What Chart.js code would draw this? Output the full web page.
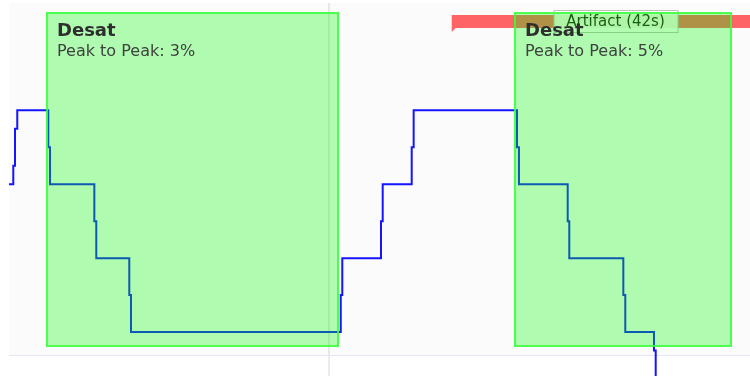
<!DOCTYPE html>
<html>
<head>
<meta charset="utf-8">
<script src="https://cdn.jsdelivr.net/npm/chart.js@4"></script>
<style>
	html, body { margin: 0; padding: 0; background: #ffffff; }
	#spo2Chart { display: block; }
</style>
</head>
<body>
<canvas id="spo2Chart" width="750" height="376"></canvas>
<script>
	//SpO2 trace: the value changes at each time (seconds) to the listed level
	var changeTimes = [19, 19.55, 19.77, 20.06, 24.04, 24.26, 29.94, 30.19, 34.42, 34.64,
		61.53, 61.73, 66.69, 66.91, 70.63, 70.88, 84.13, 84.38, 90.63, 90.83,
		97.76, 98.01, 101.69, 101.91, 103.0, 114];
	var spo2Values = [96, 96.25, 96.75, 97, 96.5, 96, 95.5, 95, 94.5, 94,
		94.5, 95, 95.5, 96, 96.5, 97, 96.5, 96, 95.5, 95,
		94.5, 94, 93.75, 93, 92, 92];

	//desaturation events
	var desatStart = [23.74, 83.68];
	var desatEnd = [61.31, 111.65];
	var desatPeakToPeak = [3, 5];

	//artifact events
	var artifactStart = [75.76];
	var artifactDuration = [42];

	//one minute mark
	var gridTimes = [60];

	var timeMin = 19, timeMax = 114;
	var spo2Min = 93.69, spo2Max = 98.45;

	var tracePoints = changeTimes.map(function (t, i) {
		return {x: t, y: spo2Values[i]};
	});

	//light background behind the plot area
	var plotBackground = {
		id: "plotBackground",
		beforeDraw: function (chart) {
			var ctx = chart.ctx, area = chart.chartArea;
			ctx.save();
			ctx.fillStyle = "#fbfbfc";
			ctx.fillRect(area.left, area.top, area.right - area.left, area.bottom - area.top);
			ctx.restore();
		}
	};

	//artifact bars, desat boxes and their captions
	var eventOverlay = {
		id: "eventOverlay",
		afterDatasetsDraw: function (chart) {
			var ctx = chart.ctx, area = chart.chartArea, xs = chart.scales.x;
			ctx.save();

			artifactStart.forEach(function (start, i) {
				var x0 = xs.getPixelForValue(start);
				var x1 = xs.getPixelForValue(start + artifactDuration[i]);
				var top = area.top + 12, bottom = area.top + 25;
				ctx.fillStyle = "rgba(255, 0, 0, 0.6)";
				ctx.beginPath();
				ctx.moveTo(x0, top);
				ctx.lineTo(x1, top);
				ctx.lineTo(x1, bottom);
				ctx.lineTo(x0 + 4, bottom);
				ctx.lineTo(x0, bottom + 4);
				ctx.closePath();
				ctx.fill();

				//caption box centred on the whole artifact
				var cx = (x0 + x1) / 2;
				ctx.fillStyle = "rgba(255, 255, 255, 0.9)";
				ctx.fillRect(cx - 62, area.top + 7, 125, 23);
				ctx.strokeStyle = "rgba(0, 0, 0, 0.25)";
				ctx.lineWidth = 1;
				ctx.strokeRect(cx - 62 + 0.5, area.top + 7.5, 124, 22);
				ctx.fillStyle = "#1a1a1a";
				ctx.font = "15px 'DejaVu Sans'";
				ctx.textAlign = "center";
				ctx.textBaseline = "middle";
				ctx.fillText("Artifact (" + artifactDuration[i] + "s)", cx, area.top + 19);
			});

			desatStart.forEach(function (start, i) {
				var x0 = Math.round(xs.getPixelForValue(start));
				var x1 = Math.round(xs.getPixelForValue(desatEnd[i]));
				var top = area.top + 9, bottom = area.bottom - 8;
				ctx.fillStyle = "rgba(0, 255, 0, 0.3)";
				ctx.fillRect(x0, top, x1 - x0, bottom - top);
				ctx.strokeStyle = "rgba(60, 255, 60, 0.85)";
				ctx.lineWidth = 2;
				ctx.strokeRect(x0 + 1, top + 1, x1 - x0 - 2, bottom - top - 2);
			});

			desatStart.forEach(function (start, i) {
				var x0 = Math.round(xs.getPixelForValue(start));
				ctx.textAlign = "left";
				ctx.textBaseline = "alphabetic";
				ctx.fillStyle = "#2e2e2e";
				ctx.font = "bold 18px 'DejaVu Sans'";
				ctx.fillText("Desat", x0 + 11, area.top + 33);
				ctx.fillStyle = "#404040";
				ctx.font = "16px 'DejaVu Sans'";
				ctx.fillText("Peak to Peak: " + desatPeakToPeak[i] + "%", x0 + 11, area.top + 53);
			});

			ctx.restore();
		}
	};

	var spo2Chart = new Chart(document.getElementById("spo2Chart"), {
		type: "line",
		data: {
			datasets: [
				{
					label: "SpO2",
					data: tracePoints,
					borderColor: "rgb(20, 20, 255)",
					borderWidth: 2,
					pointRadius: 0,
					stepped: true,
					fill: false,
					clip: false
				}
			]
		},
		options: {
			responsive: false,
			animation: false,
			devicePixelRatio: 1,
			layout: {
				padding: {left: 9, top: 3, right: 0, bottom: 0}
			},
			plugins: {
				legend: {display: false},
				tooltip: {enabled: false}
			},
			scales: {
				x: {
					type: "linear",
					min: timeMin,
					max: timeMax,
					afterBuildTicks: function (scale) {
						scale.ticks = gridTimes.map(function (v) { return {value: v}; });
					},
					ticks: {display: false},
					grid: {
						color: "rgba(0, 0, 0, 0.08)",
						lineWidth: 2,
						drawTicks: true,
						tickLength: 21
					},
					border: {color: "#e2e8f2", width: 1}
				},
				y: {
					display: false,
					min: spo2Min,
					max: spo2Max
				}
			}
		},
		plugins: [plotBackground, eventOverlay]
	});
</script>
</body>
</html>
